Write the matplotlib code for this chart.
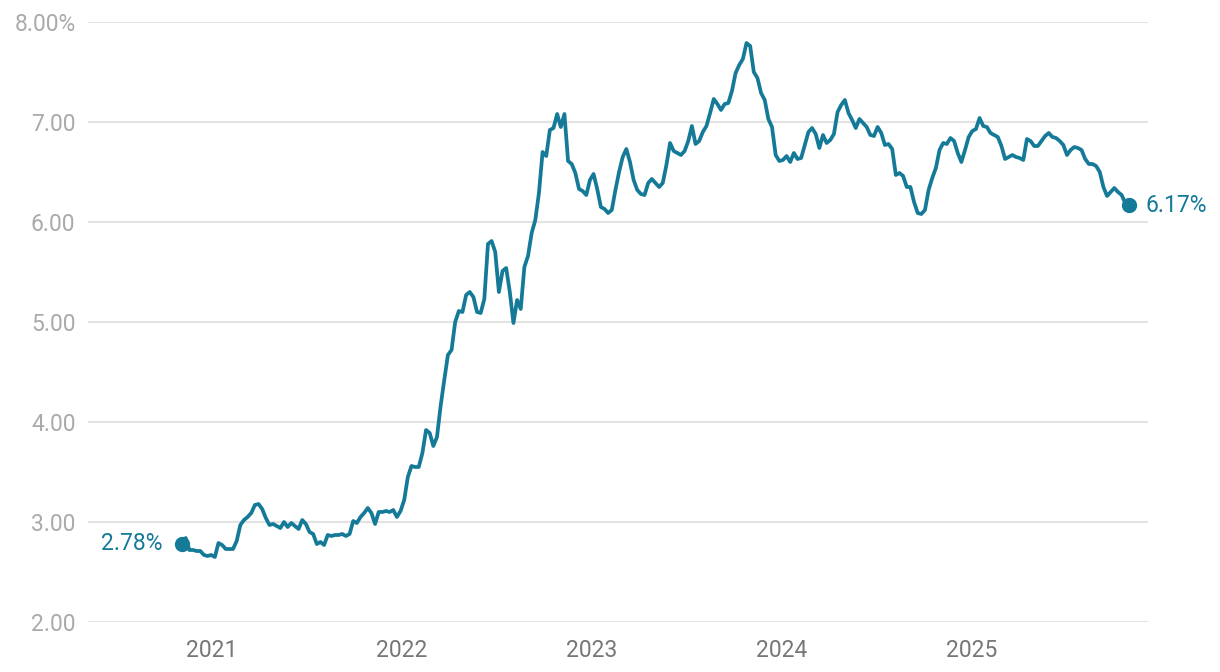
import numpy as np
import pandas as pd
import matplotlib
matplotlib.use("Agg")
import matplotlib.pyplot as plt

# weekly 30-year fixed mortgage rate (%), first week of Nov 2020 to end of Oct 2025
rates_2020 = [2.78, 2.84, 2.72, 2.72, 2.71, 2.71, 2.67, 2.66, 2.67]
rates_2021 = [2.65, 2.79, 2.77, 2.73, 2.73, 2.73, 2.81, 2.97, 3.02, 3.05, 3.09, 3.17,
              3.18, 3.13, 3.04, 2.97, 2.98, 2.96, 2.94, 3.00, 2.95, 2.99, 2.96, 2.93,
              3.02, 2.98, 2.90, 2.88, 2.78, 2.80, 2.77, 2.87, 2.86, 2.87, 2.87, 2.88,
              2.86, 2.88, 3.01, 2.99, 3.05, 3.09, 3.14, 3.09, 2.98, 3.10, 3.10, 3.11,
              3.10, 3.12, 3.05, 3.11]
rates_2022 = [3.22, 3.45, 3.56, 3.55, 3.55, 3.69, 3.92, 3.89, 3.76, 3.85, 4.16, 4.42,
              4.67, 4.72, 5.00, 5.11, 5.10, 5.27, 5.30, 5.25, 5.10, 5.09, 5.23, 5.78,
              5.81, 5.70, 5.30, 5.51, 5.54, 5.30, 4.99, 5.22, 5.13, 5.55, 5.66, 5.89,
              6.02, 6.29, 6.70, 6.66, 6.92, 6.94, 7.08, 6.95, 7.08, 6.61, 6.58, 6.49,
              6.33, 6.31, 6.27, 6.42]
rates_2023 = [6.48, 6.33, 6.15, 6.13, 6.09, 6.12, 6.32, 6.50, 6.65, 6.73, 6.60, 6.42,
              6.32, 6.28, 6.27, 6.39, 6.43, 6.39, 6.35, 6.39, 6.57, 6.79, 6.71, 6.69,
              6.67, 6.71, 6.81, 6.96, 6.78, 6.81, 6.90, 6.96, 7.09, 7.23, 7.18, 7.12,
              7.18, 7.19, 7.31, 7.49, 7.57, 7.63, 7.79, 7.76, 7.50, 7.44, 7.29, 7.22,
              7.03, 6.95, 6.67, 6.61]
rates_2024 = [6.62, 6.66, 6.60, 6.69, 6.63, 6.64, 6.77, 6.90, 6.94, 6.88, 6.74, 6.87,
              6.79, 6.82, 6.88, 7.10, 7.17, 7.22, 7.09, 7.02, 6.94, 7.03, 6.99, 6.95,
              6.87, 6.86, 6.95, 6.89, 6.77, 6.78, 6.73, 6.47, 6.49, 6.46, 6.35, 6.35,
              6.20, 6.09, 6.08, 6.12, 6.32, 6.44, 6.54, 6.72, 6.79, 6.78, 6.84, 6.81,
              6.69, 6.60, 6.72, 6.85]
rates_2025 = [6.91, 6.93, 7.04, 6.96, 6.95, 6.89, 6.87, 6.85, 6.76, 6.63, 6.65, 6.67,
              6.65, 6.64, 6.62, 6.83, 6.81, 6.76, 6.76, 6.81, 6.86, 6.89, 6.85, 6.84,
              6.81, 6.77, 6.67, 6.72, 6.75, 6.74, 6.72, 6.63, 6.58, 6.58, 6.56, 6.50,
              6.35, 6.26, 6.30, 6.34, 6.30, 6.27, 6.19, 6.17]

rates = rates_2020 + rates_2021 + rates_2022 + rates_2023 + rates_2024 + rates_2025
dates = pd.date_range("2020-11-05", periods=len(rates), freq="7D")

year_ticks = [2021, 2022, 2023, 2024, 2025]
y_ticks = [2, 3, 4, 5, 6, 7, 8]
y_labels = ["2.00", "3.00", "4.00", "5.00", "6.00", "7.00", "8.00%"]

teal = "#147a98"
plt.rcParams["font.family"] = ["Roboto", "DejaVu Sans"]

fig = plt.figure(figsize=(12.2, 6.72), dpi=100)
ax = fig.add_axes([88 / 1220, 1 - 622 / 672, (1148 - 88) / 1220, 600 / 672])

ax.plot(dates, rates, color=teal, lw=2.7, solid_joinstyle="round", zorder=3)
ax.plot(dates[[0, -1]], [rates[0], rates[-1]], "o", color=teal, ms=10, zorder=4)

ax.annotate(f"{rates[0]:.2f}%", (dates[0], rates[0]), xytext=(-14, 0),
            textcoords="offset points", ha="right", va="center",
            color=teal, fontsize=16.5)
ax.annotate(f"{rates[-1]:.2f}%", (dates[-1], rates[-1]), xytext=(12, 0),
            textcoords="offset points", ha="left", va="center",
            color=teal, fontsize=16.5)

# x scale: Jan 1 2021 sits at ~212 px, 190 px per year
t0 = pd.Timestamp("2021-01-01")
ax.set_xlim(t0 - pd.Timedelta(days=123.7 / 190 * 365.25),
            pd.Timestamp("2025-01-01") + pd.Timedelta(days=176.2 / 190 * 365.25))
ax.set_ylim(2, 8)

ax.set_xticks([pd.Timestamp(f"{y}-01-01") for y in year_ticks])
ax.set_xticklabels([str(y) for y in year_ticks])
ax.set_yticks(y_ticks)
ax.set_yticklabels(y_labels)

ax.grid(axis="y", color="#e3e3e3", lw=1.5)
ax.set_axisbelow(True)
for s in ax.spines.values():
    s.set_visible(False)
ax.tick_params(axis="y", length=0, pad=9, labelsize=16.5, labelcolor="#aaaaaa")
ax.tick_params(axis="x", length=0, pad=12, labelsize=16.5, labelcolor="#777777")

fig.savefig("out.png", dpi=100)
